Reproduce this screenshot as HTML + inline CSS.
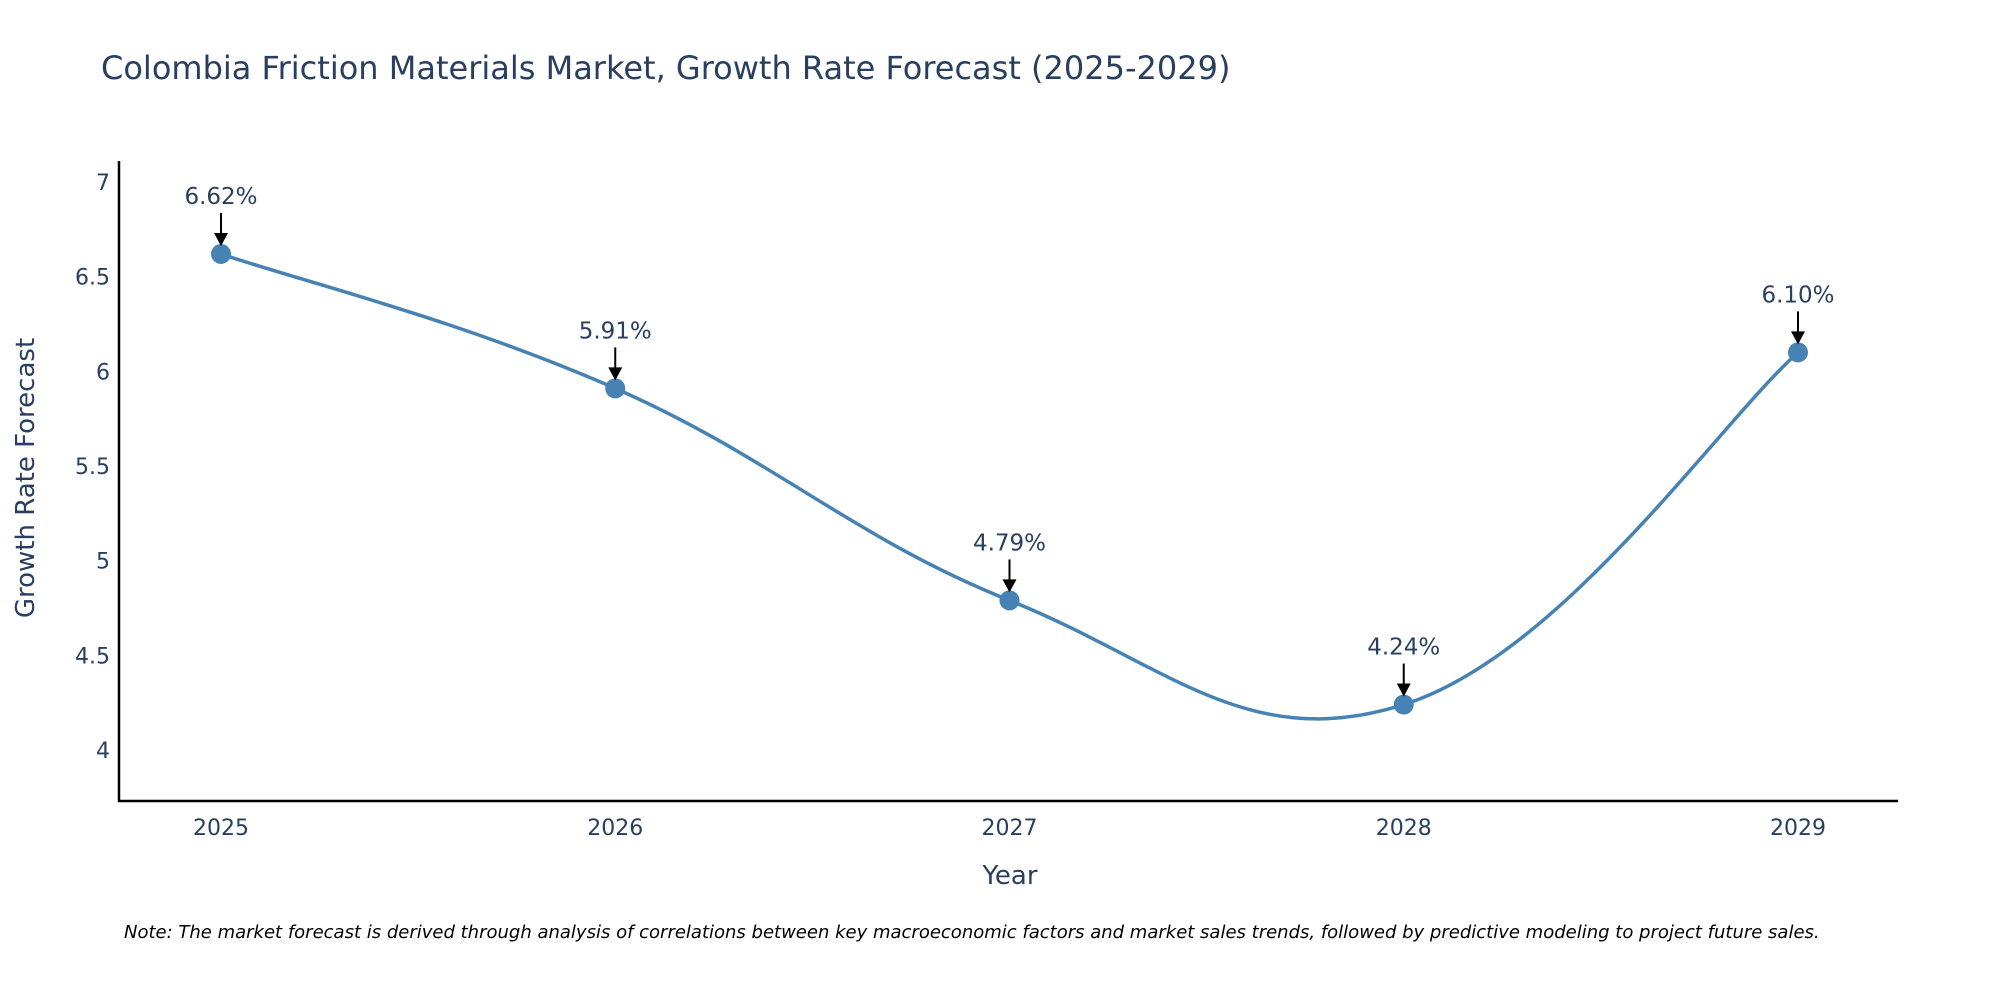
<!DOCTYPE html>
<html><head><meta charset="utf-8"><style>
body{margin:0;background:#fff;}
svg text{font-family:"DejaVu Sans","Liberation Sans",sans-serif;fill:#2a3f5f;}
</style></head><body>
<svg id="chart" width="2000" height="1000" xmlns="http://www.w3.org/2000/svg">
<text x="101" y="79" font-size="32">Colombia Friction Materials Market, Growth Rate Forecast (2025-2029)</text>
<g id="yticks"></g>
<g id="xticks"></g>
<line x1="119" y1="161" x2="119" y2="802" stroke="#000" stroke-width="2.5"/>
<line x1="118" y1="801" x2="1898" y2="801" stroke="#000" stroke-width="2.5"/>
<text transform="translate(34,478) rotate(-90)" text-anchor="middle" font-size="26">Growth Rate Forecast</text>
<text x="1010" y="884" text-anchor="middle" font-size="26">Year</text>
<g id="series"></g>
<g id="annos"></g>
<text x="124" y="938" font-size="18" font-style="italic" fill="#000" style="fill:#000">Note: The market forecast is derived through analysis of correlations between key macroeconomic factors and market sales trends, followed by predictive modeling to project future sales.</text>
</svg>
<script>
const years = ["2025","2026","2027","2028","2029"];
const rates = [6.62, 5.91, 4.79, 4.24, 6.10];
const yTickValues = [4, 4.5, 5, 5.5, 6, 6.5, 7];
const yTickLabels = ["4","4.5","5","5.5","6","6.5","7"];
const NS="http://www.w3.org/2000/svg";
const xPos = i => 221 + i*(1798-221)/(years.length-1);
const yPos = v => 750 - (v-4)*(750-182)/3;
function mk(tag, attrs, parent){const e=document.createElementNS(NS,tag);for(const k in attrs)e.setAttribute(k,attrs[k]);parent.appendChild(e);return e;}
const yt=document.getElementById('yticks');
yTickValues.forEach((v,i)=>{const t=mk('text',{x:110,y:yPos(v)+8,'text-anchor':'end','font-size':22},yt);


t.textContent=yTickLabels[i];});
const xt=document.getElementById('xticks');
years.forEach((y,i)=>{const t=mk('text',{x:xPos(i),y:835,'text-anchor':'middle','font-size':22},xt);


t.textContent=y;});
const pts=rates.map((v,i)=>[xPos(i),yPos(v)]);
let d=`M${pts[0][0]},${pts[0][1]}`;
for(let i=0;i<pts.length-1;i++){const p0=pts[Math.max(0,i-1)],p1=pts[i],p2=pts[i+1],p3=pts[Math.min(pts.length-1,i+2)];
const k=1/5;
d+=` C${p1[0]+(p2[0]-p0[0])*k},${p1[1]+(p2[1]-p0[1])*k} ${p2[0]-(p3[0]-p1[0])*k},${p2[1]-(p3[1]-p1[1])*k} ${p2[0]},${p2[1]}`;}
const s=document.getElementById('series');
const line=mk('path',{d:d,fill:'none',stroke:'#4682b4','stroke-width':3.5},s);


const an=document.getElementById('annos');
pts.forEach((p,i)=>{const c=mk('circle',{cx:p[0],cy:p[1],r:10,fill:'#4682b4'},s);


const l=mk('line',{x1:p[0],y1:p[1]-41,x2:p[0],y2:p[1]-20,stroke:'#000','stroke-width':2},an);


const h=mk('polygon',{points:`${p[0]-7},${p[1]-21} ${p[0]+7},${p[1]-21} ${p[0]},${p[1]-8}`,fill:'#000'},an);


const t=mk('text',{x:p[0],y:p[1]-50,'text-anchor':'middle','font-size':23},an);


t.textContent=rates[i].toFixed(2)+'%';});
</script>
</body></html>
